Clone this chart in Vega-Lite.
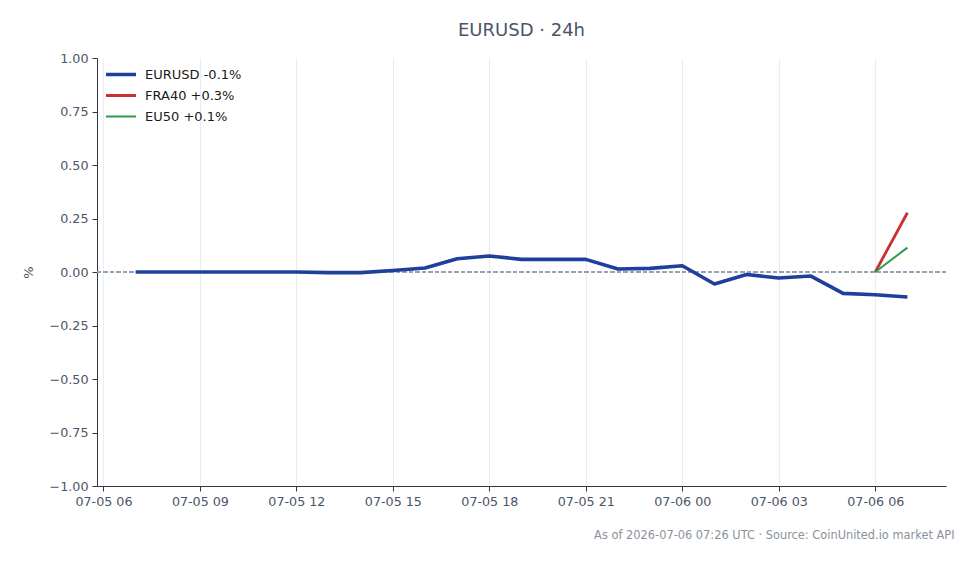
{
  "$schema": "https://vega.github.io/schema/vega-lite/v6.json",
  "width": 849,
  "height": 428,
  "autosize": {"type": "none"},
  "padding": {"left": 97, "top": 58, "right": 32, "bottom": 78},
  "background": "#ffffff",
  "title": {
    "text": "EURUSD · 24h",
    "font": "DejaVu Sans",
    "fontSize": 18,
    "fontWeight": "normal",
    "color": "#4a5568",
    "anchor": "middle",
    "offset": 12
  },
  "config": {
    "font": "DejaVu Sans",
    "view": {"stroke": null},
    "axis": {
      "labelFont": "DejaVu Sans",
      "labelFontSize": 12.7,
      "labelColor": "#4a5568",
      "domainColor": "#2d3748",
      "domainWidth": 1,
      "tickColor": "#2d3748",
      "tickSize": 5,
      "gridColor": "#e2e8f0",
      "gridWidth": 0.8
    }
  },
  "data": {
    "values": [
      {"t": "2026-07-05T07:00:00Z", "series": "EURUSD", "pct": 0.0},
      {"t": "2026-07-05T08:00:00Z", "series": "EURUSD", "pct": 0.0},
      {"t": "2026-07-05T09:00:00Z", "series": "EURUSD", "pct": 0.0},
      {"t": "2026-07-05T10:00:00Z", "series": "EURUSD", "pct": 0.0},
      {"t": "2026-07-05T11:00:00Z", "series": "EURUSD", "pct": 0.0},
      {"t": "2026-07-05T12:00:00Z", "series": "EURUSD", "pct": 0.0},
      {"t": "2026-07-05T13:00:00Z", "series": "EURUSD", "pct": -0.003},
      {"t": "2026-07-05T14:00:00Z", "series": "EURUSD", "pct": -0.003},
      {"t": "2026-07-05T15:00:00Z", "series": "EURUSD", "pct": 0.007},
      {"t": "2026-07-05T16:00:00Z", "series": "EURUSD", "pct": 0.019},
      {"t": "2026-07-05T17:00:00Z", "series": "EURUSD", "pct": 0.062},
      {"t": "2026-07-05T18:00:00Z", "series": "EURUSD", "pct": 0.075},
      {"t": "2026-07-05T19:00:00Z", "series": "EURUSD", "pct": 0.059},
      {"t": "2026-07-05T20:00:00Z", "series": "EURUSD", "pct": 0.059},
      {"t": "2026-07-05T21:00:00Z", "series": "EURUSD", "pct": 0.059},
      {"t": "2026-07-05T22:00:00Z", "series": "EURUSD", "pct": 0.014},
      {"t": "2026-07-05T23:00:00Z", "series": "EURUSD", "pct": 0.017},
      {"t": "2026-07-06T00:00:00Z", "series": "EURUSD", "pct": 0.029},
      {"t": "2026-07-06T01:00:00Z", "series": "EURUSD", "pct": -0.056},
      {"t": "2026-07-06T02:00:00Z", "series": "EURUSD", "pct": -0.012},
      {"t": "2026-07-06T03:00:00Z", "series": "EURUSD", "pct": -0.028},
      {"t": "2026-07-06T04:00:00Z", "series": "EURUSD", "pct": -0.019},
      {"t": "2026-07-06T05:00:00Z", "series": "EURUSD", "pct": -0.100},
      {"t": "2026-07-06T06:00:00Z", "series": "EURUSD", "pct": -0.106},
      {"t": "2026-07-06T07:00:00Z", "series": "EURUSD", "pct": -0.117},
      {"t": "2026-07-06T06:00:00Z", "series": "FRA40", "pct": 0.0},
      {"t": "2026-07-06T07:00:00Z", "series": "FRA40", "pct": 0.277},
      {"t": "2026-07-06T06:00:00Z", "series": "EU50", "pct": 0.0},
      {"t": "2026-07-06T07:00:00Z", "series": "EU50", "pct": 0.114}
    ]
  },
  "layer": [
    {
      "mark": {"type": "rule", "strokeDash": [4, 2.5], "color": "#94a3b8", "strokeWidth": 1},
      "encoding": {"y": {"datum": 0}}
    },
    {
      "mark": {"type": "line", "strokeCap": "butt", "strokeJoin": "round", "clip": true},
      "encoding": {
        "x": {
          "field": "t",
          "type": "temporal",
          "scale": {
            "type": "utc",
            "domain": [
              {"year": 2026, "month": 7, "date": 5, "hours": 5, "minutes": 48, "utc": true},
              {"year": 2026, "month": 7, "date": 6, "hours": 8, "minutes": 12, "utc": true}
            ]
          },
          "axis": {
            "values": [
              {"year": 2026, "month": 7, "date": 5, "hours": 6, "utc": true},
              {"year": 2026, "month": 7, "date": 5, "hours": 9, "utc": true},
              {"year": 2026, "month": 7, "date": 5, "hours": 12, "utc": true},
              {"year": 2026, "month": 7, "date": 5, "hours": 15, "utc": true},
              {"year": 2026, "month": 7, "date": 5, "hours": 18, "utc": true},
              {"year": 2026, "month": 7, "date": 5, "hours": 21, "utc": true},
              {"year": 2026, "month": 7, "date": 6, "hours": 0, "utc": true},
              {"year": 2026, "month": 7, "date": 6, "hours": 3, "utc": true},
              {"year": 2026, "month": 7, "date": 6, "hours": 6, "utc": true}
            ],
            "labelExpr": "utcFormat(datum.value, '%m-%d %H')",
            "labelPadding": 4,
            "labelFlush": false,
            "title": "As of 2026-07-06 07:26 UTC · Source: CoinUnited.io market API",
            "titleFont": "DejaVu Sans",
            "titleFontSize": 11.4,
            "titleFontWeight": "normal",
            "titleColor": "#8a929c",
            "titleAlign": "right",
            "titleAnchor": "end",
            "titleX": 857,
            "titleY": 52,
            "titleBaseline": "alphabetic"
          }
        },
        "y": {
          "field": "pct",
          "type": "quantitative",
          "scale": {"domain": [-1, 1], "nice": false, "zero": false},
          "axis": {
            "values": [-1, -0.75, -0.5, -0.25, 0, 0.25, 0.5, 0.75, 1],
            "format": ".2f",
            "labelPadding": 4,
            "title": "%",
            "titleFont": "DejaVu Sans",
            "titleFontSize": 13,
            "titleFontWeight": "normal",
            "titleColor": "#4a5568",
            "titlePadding": 14
          }
        },
        "color": {
          "field": "series",
          "type": "nominal",
          "scale": {
            "domain": ["EURUSD", "FRA40", "EU50"],
            "range": ["#1f3f9c", "#cc2f2f", "#2a9d4f"]
          },
          "legend": {
            "title": null,
            "orient": "none",
            "legendX": 7,
            "legendY": 6,
            "symbolType": "stroke",
            "symbolSize": 900,
            "labelFont": "DejaVu Sans",
            "labelFontSize": 13,
            "labelColor": "#1a1a1a",
            "labelOffset": 7,
            "rowPadding": 0,
            "clipHeight": 21,
            "labelExpr": "datum.label == 'EURUSD' ? 'EURUSD -0.1%' : datum.label == 'FRA40' ? 'FRA40 +0.3%' : 'EU50 +0.1%'"
          }
        },
        "strokeWidth": {
          "field": "series",
          "type": "nominal",
          "scale": {
            "domain": ["EURUSD", "FRA40", "EU50"],
            "range": [3.6, 2, 2]
          },
          "legend": {
            "title": null,
            "orient": "none",
            "legendX": 7,
            "legendY": 6,
            "symbolType": "stroke",
            "symbolSize": 900,
            "labelFont": "DejaVu Sans",
            "labelFontSize": 13,
            "labelColor": "#1a1a1a",
            "labelOffset": 7,
            "rowPadding": 0,
            "clipHeight": 21,
            "labelExpr": "datum.label == 'EURUSD' ? 'EURUSD -0.1%' : datum.label == 'FRA40' ? 'FRA40 +0.3%' : 'EU50 +0.1%'"
          }
        }
      }
    }
  ]
}
